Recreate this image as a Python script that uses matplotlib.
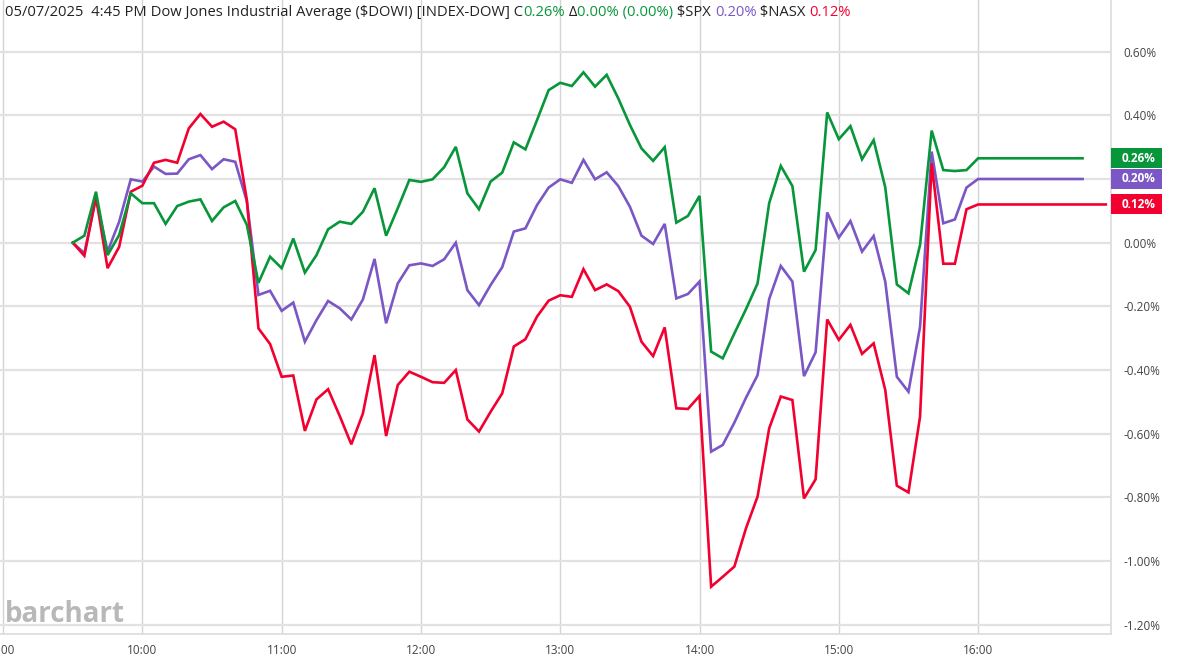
import pandas as pd
import matplotlib
matplotlib.use("Agg")
import matplotlib.pyplot as plt
import matplotlib.dates as mdates
from matplotlib.patches import Rectangle
from matplotlib.ticker import FuncFormatter, FixedLocator

plt.rcParams['font.family'] = ['Open Sans', 'Noto Sans', 'DejaVu Sans']

# intraday % change, 5-minute bars from 09:30 to 16:00
dowi = [0.00, 0.022, 0.16, -0.039, 0.024, 0.155, 0.124, 0.124, 0.059, 0.115,
        0.129, 0.136, 0.068, 0.111, 0.131, 0.056, -0.126, -0.044, -0.080, 0.013,
        -0.094, -0.039, 0.042, 0.066, 0.059, 0.097, 0.171, 0.022, 0.108, 0.197,
        0.191, 0.199, 0.237, 0.301, 0.155, 0.105, 0.192, 0.220, 0.315, 0.293,
        0.385, 0.479, 0.502, 0.492, 0.535, 0.490, 0.527, 0.453, 0.370, 0.296,
        0.257, 0.300, 0.063, 0.084, 0.147, -0.342, -0.363, -0.285, -0.209, -0.128,
        0.124, 0.241, 0.178, -0.091, -0.023, 0.409, 0.325, 0.366, 0.262, 0.322,
        0.174, -0.131, -0.159, -0.007, 0.352, 0.228, 0.225, 0.228, 0.265]
spx = [0.00, -0.033, 0.14, -0.028, 0.066, 0.199, 0.192, 0.239, 0.216, 0.217,
       0.262, 0.275, 0.231, 0.262, 0.254, 0.13, -0.164, -0.151, -0.214, -0.188,
       -0.311, -0.243, -0.183, -0.206, -0.241, -0.178, -0.051, -0.253, -0.128, -0.071,
       -0.065, -0.073, -0.052, 0.000, -0.149, -0.196, -0.133, -0.077, 0.035, 0.045,
       0.118, 0.173, 0.199, 0.188, 0.260, 0.199, 0.221, 0.178, 0.113, 0.022,
       -0.004, 0.059, -0.175, -0.161, -0.122, -0.656, -0.635, -0.565, -0.487, -0.416,
       -0.177, -0.073, -0.122, -0.419, -0.344, 0.095, 0.016, 0.068, -0.028, 0.021,
       -0.122, -0.421, -0.468, -0.264, 0.286, 0.061, 0.073, 0.173, 0.20]
nasx = [0.00, -0.041, 0.144, -0.08, -0.013, 0.16, 0.179, 0.251, 0.26, 0.251,
        0.359, 0.404, 0.364, 0.38, 0.356, 0.134, -0.269, -0.318, -0.421, -0.417,
        -0.591, -0.492, -0.460, -0.544, -0.633, -0.536, -0.353, -0.607, -0.447, -0.405,
        -0.421, -0.438, -0.44, -0.40, -0.555, -0.593, -0.531, -0.473, -0.326, -0.303,
        -0.232, -0.182, -0.165, -0.170, -0.083, -0.149, -0.131, -0.152, -0.201, -0.311,
        -0.356, -0.266, -0.520, -0.522, -0.481, -1.080, -1.049, -1.017, -0.897, -0.797,
        -0.583, -0.483, -0.494, -0.803, -0.743, -0.241, -0.305, -0.258, -0.349, -0.316,
        -0.462, -0.763, -0.784, -0.546, 0.249, -0.066, -0.066, 0.105, 0.12]

day = "2025-05-07"
times = pd.date_range(f"{day} 09:30", f"{day} 16:00", freq="5min")
# last value is carried flat after the close
hold_until = {"DOWI": "16:45", "SPX": "16:45", "NASX": "16:55"}
last_labels = {"DOWI": "0.26%", "SPX": "0.20%", "NASX": "0.12%"}

colors = {"DOWI": "#07963a", "SPX": "#7a57c4", "NASX": "#f2002f"}
series = {"SPX": spx, "NASX": nasx, "DOWI": dowi}

y_ticks = [0.6, 0.4, 0.2, 0.0, -0.2, -0.4, -0.6, -0.8, -1.0, -1.2]
x_hours = list(range(9, 17))

fig = plt.figure(figsize=(11.88, 6.61), dpi=100)
ax = fig.add_axes([0, 27 / 661, 1111 / 1188, 634 / 661])

for name, vals in series.items():
    t = list(times) + [pd.Timestamp(f"{day} {hold_until[name]}")]
    v = list(vals) + [vals[-1]]
    ax.plot(t, v, color=colors[name], lw=1.9, solid_joinstyle='miter', zorder=3)

ax.set_xlim(pd.Timestamp(f"{day} 08:58:40"), pd.Timestamp(f"{day} 16:57:15"))
ax.set_ylim(-1.2286, 0.762)

ax.yaxis.tick_right()
ax.yaxis.set_major_locator(FixedLocator(y_ticks))
ax.yaxis.set_major_formatter(FuncFormatter(lambda v, p: f"{v:.2f}%"))
ax.xaxis.set_major_locator(FixedLocator([mdates.date2num(pd.Timestamp(f"{day} {h:02d}:00")) for h in x_hours]))
ax.xaxis.set_major_formatter(FuncFormatter(lambda v, p: f"{mdates.num2date(v).hour}:00"))
ax.tick_params(axis='both', length=0, labelsize=8.5, colors='#444444')
ax.tick_params(axis='y', pad=9)
ax.tick_params(axis='x', pad=7)

ax.grid(axis='y', color='#e2e2e2', lw=1.6, zorder=0)
ax.grid(axis='x', color='#d4d4d4', lw=1.0, zorder=0)
for s in ['top', 'left']:
    ax.spines[s].set_visible(False)
for s in ['bottom', 'right']:
    ax.spines[s].set_color('#dcdcdc')
    ax.spines[s].set_linewidth(1.2)

# last-value tags on the right axis
ytrans = ax.get_yaxis_transform()
tag_w = 51 / 1111
tag_h = 20 / 318.5
tag_y = {"DOWI": 0.265, "SPX": 0.20, "NASX": 0.121}
for name in series:
    ax.add_patch(Rectangle((1, tag_y[name] - tag_h / 2), tag_w, tag_h, transform=ytrans,
                           fc=colors[name], ec='none', clip_on=False, zorder=5))
    ax.text(1 + 28 / 1111, tag_y[name], last_labels[name], transform=ytrans,
            ha='center', va='center', fontsize=8.5, fontweight='bold', color='white',
            clip_on=False, zorder=6)

# watermark
ax.text(0.004, 0.008, "barchart", transform=ax.transAxes, fontsize=20,
        fontweight='bold', color='#b8b8b8', ha='left', va='bottom', zorder=1)

# header line with coloured pieces
header = [("05/07/2025  4:45 PM Dow Jones Industrial Average ($DOWI) [INDEX-DOW] C", '#222222'),
          ("0.26%", colors["DOWI"]),
          (" Δ", '#222222'),
          ("0.00% (0.00%)", colors["DOWI"]),
          (" $SPX ", '#222222'),
          ("0.20%", colors["SPX"]),
          (" $NASX ", '#222222'),
          ("0.12%", colors["NASX"])]
fig.canvas.draw()
renderer = fig.canvas.get_renderer()
x = 5
for txt, col in header:
    t = fig.text(x / 1188, 1 - 12.5 / 661, txt, fontsize=10.6, color=col,
                 ha='left', va='center')
    x += t.get_window_extent(renderer).width

fig.savefig("out.png", dpi=100)
